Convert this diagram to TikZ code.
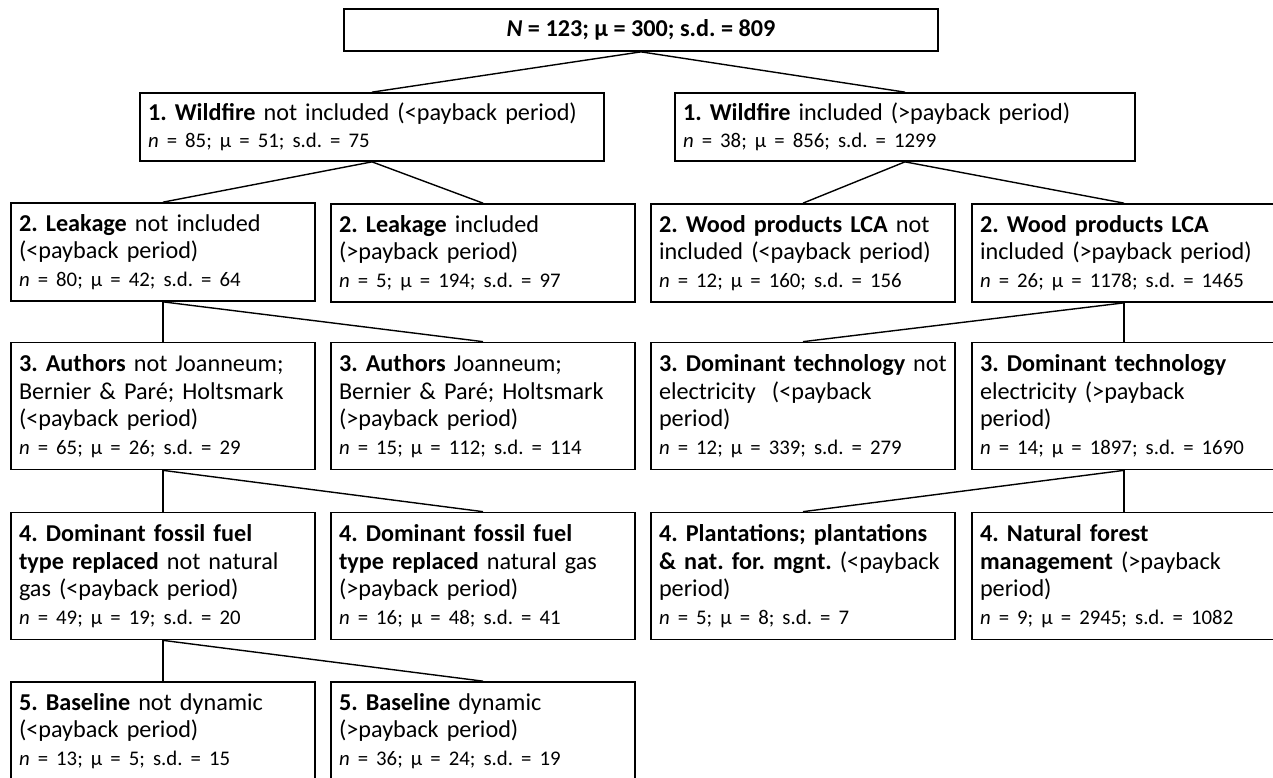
\documentclass[tikz,border=0pt]{standalone}
\usepackage{fontspec}
\setmainfont{Carlito}
\usepackage{tikz}

\newcommand{\nstat}[3]{{\fontsize{20.8}{27}\selectfont\textit{n} = #1; μ = #2; s.d. = #3}}
\hyphenpenalty=10000
\frenchspacing

\begin{document}
\begin{tikzpicture}[x=1pt,y=-1pt,
  box/.style={draw,line width=1.7pt,inner xsep=8pt,inner ysep=0pt,align=left,
    font=\fontsize{24.2}{27.5}\selectfont},
  col/.style={box,minimum width=304pt,text width=288pt},
  short/.style={col,minimum height=98pt},
  tall/.style={col,minimum height=127pt},
  link/.style={line width=1.4pt}]
\useasboundingbox (0,0) rectangle (1273,777);

\path (641,30) node[box,minimum width=594pt,minimum height=42pt,align=center] (all)
  {\textbf{\textit{N} = 123; μ = 300; s.d. = 809}};

\path (372,127) node[box,minimum height=68pt,text width=448pt] (fireno)
  {\textbf{1. Wildfire} not included (<payback period)\\\nstat{85}{51}{75}};
\path (905,127) node[box,minimum height=68pt,text width=444pt] (fireyes)
  {\textbf{1. Wildfire} included (>payback period)\\\nstat{38}{856}{1299}};

\path (163,252) node[short] (leakno)
  {\textbf{2. Leakage} not included\\(<payback period)\\\nstat{80}{42}{64}};
\path (483,253) node[short] (leakyes)
  {\textbf{2. Leakage} included\\(>payback period)\\\nstat{5}{194}{97}};
\path (803,253) node[short] (woodno)
  {\textbf{2. Wood products LCA} not\\included (<payback period)\\\nstat{12}{160}{156}};
\path (1124,253) node[short] (woodyes)
  {\textbf{2. Wood products LCA}\\included (>payback period)\\\nstat{26}{1178}{1465}};

\path (163,406) node[tall] (authno)
  {\textbf{3. Authors} not Joanneum;\\Bernier \& Paré; Holtsmark\\(<payback period)\\\nstat{65}{26}{29}};
\path (483,406) node[tall] (authyes)
  {\textbf{3. Authors} Joanneum;\\Bernier \& Paré; Holtsmark\\(>payback period)\\\nstat{15}{112}{114}};
\path (803,406) node[tall] (techno)
  {\mbox{\textbf{3. Dominant technology} not}\\electricity\ \ (<payback\\period)\\\nstat{12}{339}{279}};
\path (1124,406) node[tall] (techyes)
  {\textbf{3. Dominant technology}\\electricity (>payback\\period)\\\nstat{14}{1897}{1690}};

\path (163,576) node[tall] (fuelno)
  {\textbf{4. Dominant fossil fuel}\\\textbf{type replaced} not natural\\gas (<payback period)\\\nstat{49}{19}{20}};
\path (483,576) node[tall] (fuelyes)
  {\textbf{4. Dominant fossil fuel}\\\textbf{type replaced} natural gas\\(>payback period)\\\nstat{16}{48}{41}};
\path (803,576) node[tall] (plant)
  {\textbf{4. Plantations; plantations}\\\mbox{\textbf{\& nat. for. mgnt.} (<payback}\\period)\\\nstat{5}{8}{7}};
\path (1124,576) node[tall] (natfor)
  {\textbf{4. Natural forest}\\\textbf{management} (>payback\\period)\\\nstat{9}{2945}{1082}};

\path (163,731) node[short] (baseno)
  {\textbf{5. Baseline} not dynamic\\(<payback period)\\\nstat{13}{5}{15}};
\path (483,731) node[short] (baseyes)
  {\textbf{5. Baseline} dynamic\\(>payback period)\\\nstat{36}{24}{19}};

\draw[link] (all.south) -- (fireno.north);
\draw[link] (all.south) -- (fireyes.north);
\draw[link] (fireno.south) -- (leakno.north);
\draw[link] (fireno.south) -- (leakyes.north);
\draw[link] (fireyes.south) -- (woodno.north);
\draw[link] (fireyes.south) -- (woodyes.north);
\draw[link] (leakno.south) -- (authno.north);
\draw[link] (leakno.south) -- (authyes.north);
\draw[link] (woodyes.south) -- (techno.north);
\draw[link] (woodyes.south) -- (techyes.north);
\draw[link] (authno.south) -- (fuelno.north);
\draw[link] (authno.south) -- (fuelyes.north);
\draw[link] (techyes.south) -- (plant.north);
\draw[link] (techyes.south) -- (natfor.north);
\draw[link] (fuelno.south) -- (baseno.north);
\draw[link] (fuelno.south) -- (baseyes.north);
\end{tikzpicture}
\end{document}
